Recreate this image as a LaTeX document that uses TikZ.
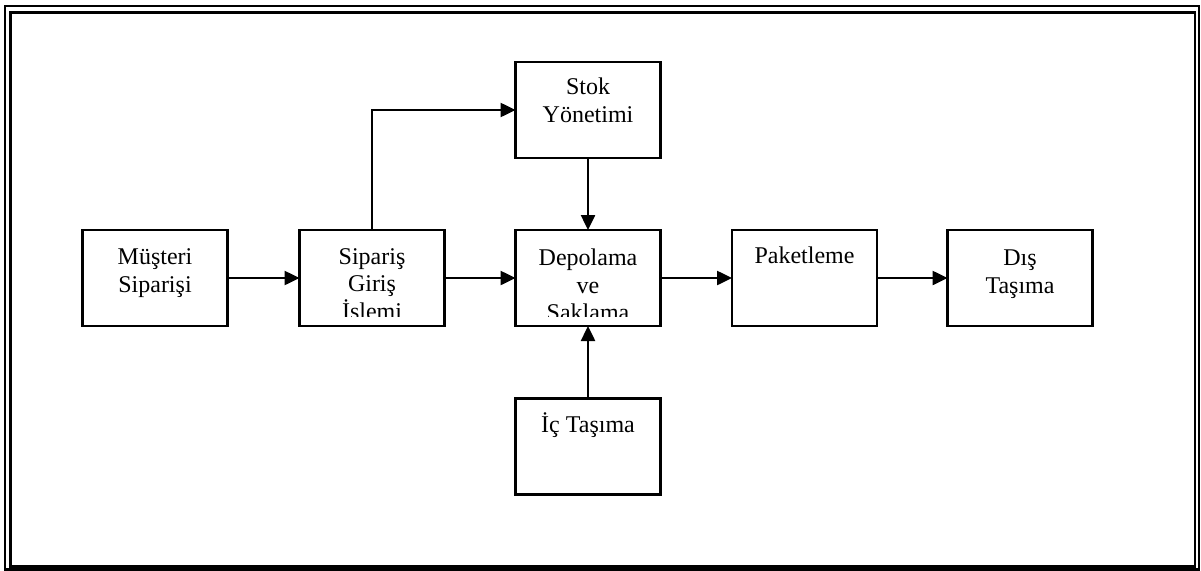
\documentclass[tikz,border=0pt]{standalone}
\usepackage{fontspec}
\setmainfont{Liberation Serif}
\usetikzlibrary{arrows.meta}
\begin{document}
\begin{tikzpicture}[x=1pt,y=-1pt,
  box/.style={draw=black,line width=2.5pt,inner sep=0pt,outer sep=0pt,minimum width=145pt,minimum height=96pt},
  lbl/.style={anchor=base,inner sep=0pt,align=center,font=\fontsize{24}{27.5}\selectfont},
  conn/.style={line width=2.5pt,-{Triangle[length=15pt,width=14pt]}},
  frame/.style={line width=2.2pt}]
\useasboundingbox (0,0) rectangle (1201,570);
% double frame
\draw[frame] (5,6) rectangle (1199,569.5);
\draw[frame] (10.5,12.5) rectangle (1195,566.5);
% boxes
\node[box] (mus) at (155,278) {};
\node[box] (sip) at (372,278) {};
\node[box] (dep) at (588,278) {};
\node[box] (stok) at (588,110) {};
\node[box] (ic) at (588,446.5) {};
\node[box] (pak) at (804.5,278) {};
\node[box] (dis) at (1020,278) {};
% labels (anchor = baseline of last line)
\node[lbl] (tmus) at (155,292) {Müşteri\\Siparişi};
\begin{scope}
\clip (sip.north west) rectangle (446,316);
\node[lbl] (tsip) at (372,319) {Sipariş\\Giriş\\İşlemi};
\end{scope}
\begin{scope}
\clip (dep.north west) rectangle (660,316);
\node[lbl] (tdep) at (588,320.5) {Depolama\\ve\\Saklama};
\end{scope}
\node[lbl] (tstok) at (588,122) {Stok\\Yönetimi};
\node[lbl] (tic) at (588,432) {İç Taşıma};
\node[lbl] (tpak) at (804.5,263) {Paketleme};
\node[lbl] (tdis) at (1020,293) {Dış\\Taşıma};
% connectors
\draw[conn] (mus.east) -- (sip.west);
\draw[conn] (sip.east) -- (dep.west);
\draw[conn] (dep.east) -- (pak.west);
\draw[conn] (pak.east) -- (dis.west);
\draw[conn] (sip.north) |- (stok.west);
\draw[conn] (stok.south) -- (dep.north);
\draw[conn] (ic.north) -- (dep.south);
\end{tikzpicture}
\end{document}
